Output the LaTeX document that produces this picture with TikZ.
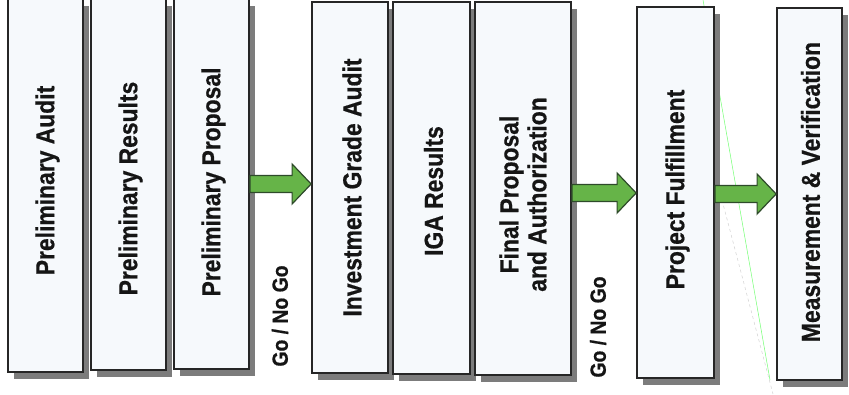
\documentclass[tikz,border=0pt]{standalone}
\usepackage{fontspec}
\newfontfamily\labfont{Liberation Sans}[FakeStretch=0.88,FakeBold=0.6]
\usetikzlibrary{calc,shadows}
\definecolor{boxfill}{HTML}{F6F9FC}
\definecolor{shadowgray}{HTML}{7C7C7C}
\definecolor{flowgreen}{HTML}{66B448}
\definecolor{flowedge}{HTML}{2E4A2A}
\definecolor{inkcol}{HTML}{151515}
\newcommand\blockarrow[2]{\draw[flow] let \p1=#1, \p2=#2 in
  (\x1,\y1+8.5pt) -- (\x2-19pt,\y1+8.5pt) -- (\x2-19pt,\y1+20pt) -- (\x2,\y1)
  -- (\x2-19pt,\y1-20pt) -- (\x2-19pt,\y1-8.5pt) -- (\x1,\y1-8.5pt) -- cycle;}
\begin{document}
\begin{tikzpicture}[x=1pt,y=-1pt,
  stage/.style={draw=black!85, line width=1.8pt, fill=boxfill, inner sep=0pt,
    drop shadow={shadow xshift=6pt, shadow yshift=-7pt, fill=shadowgray, opacity=1}},
  stagetext/.style={rotate=90, text=inkcol, align=center, inner sep=0pt,
    font=\labfont\bfseries\fontsize{26}{28}\selectfont},
  gotext/.style={rotate=90, text=inkcol, inner sep=0pt,
    font=\labfont\bfseries\fontsize{22}{24}\selectfont},
  flow/.style={fill=flowgreen, draw=flowedge, line width=1.2pt, line join=miter},
  scan/.style={line width=0.5pt}]
\useasboundingbox (0,0) rectangle (849,394);
\fill[white] (0,0) rectangle (849,394);
% scan artefacts
\draw[scan, green!55!white] (703,0) -- (770,380);
\draw[scan, gray!35, dashed] (722,200) -- (773,394);
% stages
\node[stage, minimum width=75pt, minimum height=373pt] (b1) at (45.5,185.5) {};
\node[stage, minimum width=75pt, minimum height=371pt] (b2) at (128.5,184.5) {};
\node[stage, minimum width=75pt, minimum height=370pt] (b3) at (211.5,184) {};
\node[stage, minimum width=76pt, minimum height=371pt] (b4) at (350,187.5) {};
\node[stage, minimum width=77pt, minimum height=372pt] (b5) at (431.5,188) {};
\node[stage, minimum width=96pt, minimum height=373pt] (b6) at (523,188.5) {};
\node[stage, minimum width=77pt, minimum height=371pt] (b7) at (675.5,192.5) {};
\node[stage, minimum width=65pt, minimum height=372pt] (b8) at (809.5,194) {};
% labels
\node[stagetext] (t1) at ($(b1.center)+(2,-5)$) {Preliminary Audit};
\node[stagetext] (t2) at ($(b2.center)+(2,4)$) {Preliminary Results};
\node[stagetext] (t3) at ($(b3.center)+(2,-2)$) {Preliminary Proposal};
\node[stagetext] (t4) at ($(b4.center)+(2,0)$) {Investment Grade Audit};
\node[stagetext] (t5) at ($(b5.center)+(2,3)$) {IGA Results};
\node[stagetext] (t6) at ($(b6.center)+(0,6)$) {Final Proposal\\and Authorization};
\node[stagetext] (t7) at ($(b7.center)+(2,-3)$) {Project Fulfillment};
\node[stagetext] (t8) at ($(b8.center)+(1,-2)$) {Measurement \& Verification};
% arrows
\blockarrow{(b3.east)}{(b4.west)}
\blockarrow{($(b6.east)+(0,4.5)$)}{(b7.west)}
\blockarrow{($(b7.east)+(0,1.5)$)}{(b8.west)}
% go / no go
\node[gotext] (g1) at (280,316) {Go / No Go};
\node[gotext] (g2) at (598,327) {Go / No Go};
\end{tikzpicture}
\end{document}
